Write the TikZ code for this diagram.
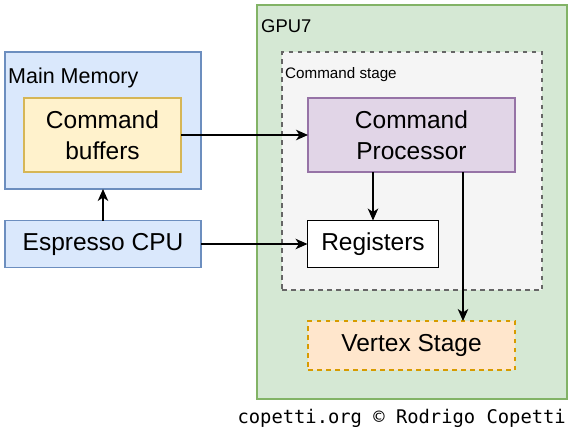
\documentclass[tikz,border=0pt]{standalone}
\usepackage{fontspec}
\setmainfont{Liberation Sans}
\newfontfamily\monof{DejaVu Sans Mono}
\usetikzlibrary{arrows.meta}
\definecolor{bluefill}{HTML}{DAE8FC}
\definecolor{bluedraw}{HTML}{6C8EBF}
\definecolor{yelfill}{HTML}{FFF2CC}
\definecolor{yeldraw}{HTML}{D6B656}
\definecolor{grnfill}{HTML}{D5E8D4}
\definecolor{grndraw}{HTML}{82B366}
\definecolor{gryfill}{HTML}{F5F5F5}
\definecolor{grydraw}{HTML}{666666}
\definecolor{purfill}{HTML}{E1D5E7}
\definecolor{purdraw}{HTML}{9673A6}
\definecolor{orgfill}{HTML}{FFE6CC}
\definecolor{orgdraw}{HTML}{D79B00}
\tikzset{
  blk/.style={rectangle, line width=1.2pt, inner sep=0pt, outer sep=0pt, align=center,
    font=\fontsize{24.5}{30.5}\selectfont},
  dsh/.style={dash pattern=on 4.5pt off 4.5pt},
  lbl/.style={inner sep=0pt, anchor=base west},
  arr/.style={line width=1.5pt, -{Stealth[length=12pt,width=10.5pt,inset=3.5pt]}},
}
\begin{document}
\begin{tikzpicture}[x=1pt,y=-1pt]
\useasboundingbox (0,0) rectangle (573,431);
% containers
\node[blk, fill=grnfill, draw=grndraw, minimum width=310, minimum height=394] (gpu) at (412,202) {};
\node[lbl, font=\fontsize{18.4}{20}\selectfont] (gpul) at (261,32) {GPU7};
\node[blk, dsh, fill=gryfill, draw=grydraw, minimum width=260, minimum height=238] (cs) at (412,171) {};
\node[lbl, font=\fontsize{15.2}{17}\selectfont] (csl) at (285,78) {Command stage};
\node[blk, fill=bluefill, draw=bluedraw, minimum width=196, minimum height=137] (mm) at (103,120.5) {};
\node[lbl, font=\fontsize{21.5}{23}\selectfont] (mml) at (8,83) {Main Memory};
% blocks
\node[blk, fill=yelfill, draw=yeldraw, minimum width=157, minimum height=74] (cb) at (102.5,135) {Command\\buffers};
\node[blk, fill=bluefill, draw=bluedraw, minimum width=196, minimum height=47] (cpu) at (103,244) {Espresso CPU};
\node[blk, fill=purfill, draw=purdraw, minimum width=207, minimum height=74] (cp) at (411.5,135) {Command\\Processor};
\node[blk, fill=white, draw=black, minimum width=131, minimum height=47] (reg) at (373,244) {Registers};
\node[blk, dsh, fill=orgfill, draw=orgdraw, minimum width=207, minimum height=49] (vx) at (411.5,345.5) {Vertex Stage};
% connectors
\draw[arr] (cb.east) -- (cp.west);
\draw[arr] (cpu.east) -- (reg.west);
\draw[arr] (cpu.north) -- (mm.south);
\draw[arr] (reg.north |- cp.south) -- (reg.north);
\draw[arr] ([xshift=51.5pt]cp.south) -- ([xshift=51.5pt]vx.north);
% credit
\node[inner sep=0pt, anchor=base east, font=\monof\fontsize{18.8}{20}\selectfont] (cr) at (566,423) {copetti.org © Rodrigo Copetti};
\end{tikzpicture}
\end{document}
